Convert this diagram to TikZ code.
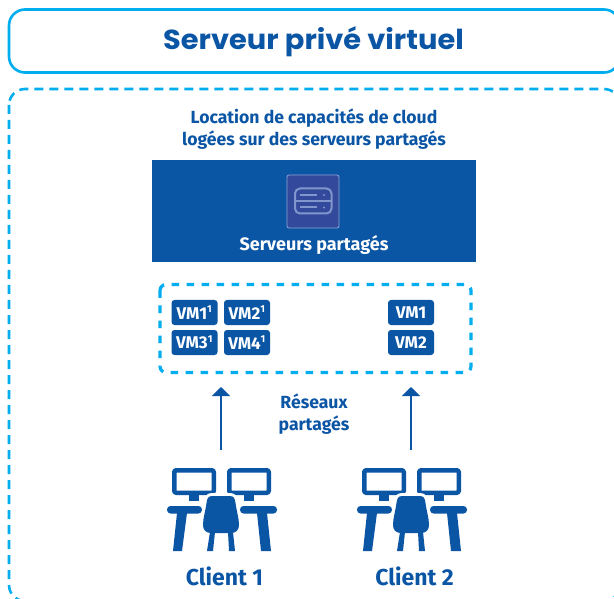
\documentclass[tikz,border=0pt]{standalone}
\usepackage{fontspec}
\usepackage{graphicx}
\setmainfont{Fira Sans}[BoldFont={Fira Sans Bold}]
\newfontfamily\titlefont{Poppins}[BoldFont={Poppins Bold}]
\usetikzlibrary{arrows.meta}
\definecolor{navy}{HTML}{0B55A5}
\definecolor{cyanline}{HTML}{00AEEF}
\definecolor{iconbg}{HTML}{33499B}
\definecolor{iconln}{HTML}{8FA4D6}
\tikzset{
  x=1pt,y=-1pt,
  vmbox/.style={fill=navy,rounded corners=3pt,minimum width=46pt,minimum height=25pt,inner sep=0pt,text=white,font=\bfseries\fontsize{17}{18}\selectfont},
  lab/.style={text=navy,align=center,inner sep=0pt,font=\bfseries\fontsize{17.6}{21.5}\selectfont},
  outerdash/.style={draw=cyanline,line width=2.6pt,dash pattern=on 9pt off 6pt},
  innerdash/.style={draw=cyanline,line width=3.2pt,dash pattern=on 7.5pt off 7.5pt},
  flow/.style={draw=navy,line width=1.8pt,-{Triangle[length=9pt,width=18pt]}}
}
\newcommand{\chairpath}{(-9,496) -- (9,496)
     .. controls (13,496) and (14,499) .. (14.5,503)
     .. controls (15.5,511) and (18,518) .. (18,525)
     .. controls (18,530) and (15,533) .. (10,533) -- (-10,533)
     .. controls (-15,533) and (-18,530) .. (-18,525)
     .. controls (-18,518) and (-15.5,511) .. (-14.5,503)
     .. controls (-14,499) and (-13,496) .. (-9,496) -- cycle}
\newcommand{\clienticon}[1]{%
\begin{scope}[shift={(#1,0)}]
  \draw[navy,line width=4.5pt,rounded corners=2pt] (-46.75,470.25) rectangle (-7.25,492.75);
  \draw[navy,line width=4.5pt,rounded corners=2pt] (8.25,470.25) rectangle (47.75,492.75);
  \fill[navy] (-32,494) rectangle (-22,501);
  \fill[navy] (23,494) rectangle (33,501);
  \fill[navy,rounded corners=3.5pt] (-54,506) rectangle (-19,513.5);
  \fill[navy,rounded corners=3.5pt] (19,506) rectangle (56,513.5);
  \fill[navy] (-44,513) -- (-34,513) -- (-39,551) -- (-48,551) -- cycle;
  \fill[navy] (36,513) -- (46,513) -- (50,551) -- (40,551) -- cycle;
  \draw[white,line width=6pt] \chairpath;
  \fill[navy] \chairpath;
  \fill[navy] (-11,532) -- (-6,532) -- (-8,551) -- (-14,551) -- cycle;
  \fill[navy] (7,532) -- (12,532) -- (14,551) -- (8,551) -- cycle;
\end{scope}}
\begin{document}
\begin{tikzpicture}[line join=round]
\useasboundingbox (0,0) rectangle (614,599);
\clip (0,0) rectangle (614,599);
\fill[white] (0,0) rectangle (614,599);
\draw[cyanline,line width=2.6pt,rounded corners=16pt] (9,9.5) rectangle (620,72.5);
\node[inner sep=0pt,text=navy] (title) at (313.5,42) {\scalebox{1.05}[1]{\titlefont\bfseries\fontsize{27.5}{32}\selectfont Serveur privé virtuel}};
\draw[outerdash,rounded corners=16pt] (9,89) rectangle (620,601);
\node[lab] (head) at (314,129) {Location de capacités de cloud\\logées sur des serveurs partagés};
\node[fill=navy,minimum width=324pt,minimum height=102pt,inner sep=0pt] (srv) at (314,211) {};
\node[fill=iconbg,draw=iconln,line width=.8pt,rounded corners=2pt,minimum width=52pt,minimum height=53pt,inner sep=0pt] (ic) at (313,201.5) {};
\draw[iconln!85!iconbg,line width=2pt,rounded corners=5pt] (295,188.5) rectangle (331.5,213.5);
\draw[iconln!85!iconbg,line width=2pt] (295,201) -- (331.5,201);
\draw[iconln!85!iconbg,line width=2pt] (300,195) -- (317,195) (300,207.5) -- (317,207.5);
\fill[iconln!85!iconbg] (324,195) circle (1.2) (324,207.5) circle (1.2);
\node[inner sep=0pt,text=white,font=\bfseries\fontsize{18}{18}\selectfont] (srvl) at (314,245) {Serveurs partagés};
\draw[innerdash,rounded corners=6pt] (160,284.5) rectangle (471,372.5);
\node[vmbox] (v1) at (194.5,312.5) {VM1\textsuperscript{\fontsize{10}{10}\selectfont 1}};
\node[vmbox] (v2) at (247,312.5) {VM2\textsuperscript{\fontsize{10}{10}\selectfont 1}};
\node[vmbox] (v3) at (194.5,342.5) {VM3\textsuperscript{\fontsize{10}{10}\selectfont 1}};
\node[vmbox] (v4) at (247,342.5) {VM4\textsuperscript{\fontsize{10}{10}\selectfont 1}};
\node[vmbox] (w1) at (411,312.5) {VM1};
\node[vmbox] (w2) at (411,342.5) {VM2};
\coordinate (a1) at (221,450);
\coordinate (a1t) at (221,387);
\coordinate (a2) at (411,450);
\coordinate (a2t) at (411,387);
\draw[flow] (a1) -- (a1t);
\draw[flow] (a2) -- (a2t);
\node[lab] (res) at (314,414) {Réseaux\\partagés};
\clienticon{221}
\clienticon{411}
\node[lab,font=\bfseries\fontsize{23}{26}\selectfont] (c1) at (224.5,576) {Client 1};
\node[lab,font=\bfseries\fontsize{23}{26}\selectfont] (c2) at (414.5,576) {Client 2};
\end{tikzpicture}
\end{document}
